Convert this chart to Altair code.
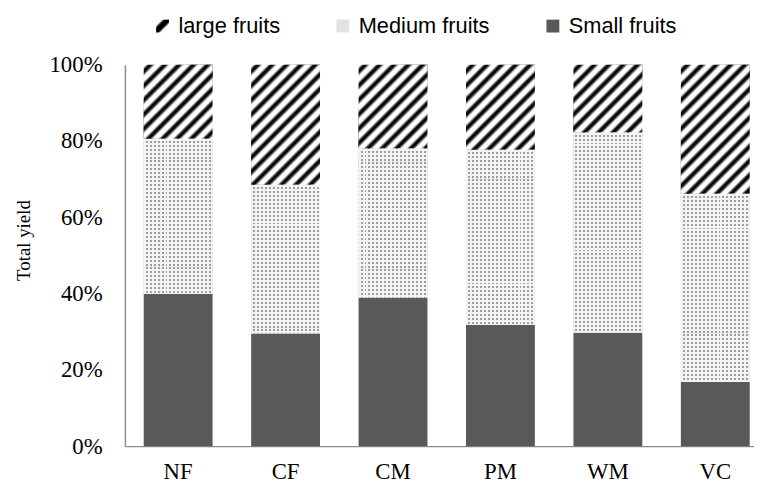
import altair as alt

# ---------------- data ----------------
categories = ["NF", "CF", "CM", "PM", "WM", "VC"]
small_share = [0.399, 0.295, 0.389, 0.318, 0.298, 0.168]
medium_share = [0.407, 0.390, 0.391, 0.459, 0.524, 0.4935]
large_share = [0.194, 0.315, 0.220, 0.223, 0.178, 0.3385]
series = ["large fruits", "Medium fruits", "Small fruits"]
y_ticks = [0, 0.2, 0.4, 0.6, 0.8, 1.0]

# ---------------- layout / style ----------------
SERIF = "Liberation Serif"
SANS = "Liberation Sans"
PLOT_W, PLOT_H = 635, 385
PAD_INNER, PAD_OUTER, ALIGN = 0.359, 0.1074, 0.815
STEP = PLOT_W / (len(categories) - PAD_INNER + 2 * PAD_OUTER)
BAR_W = STEP * (1 - PAD_INNER)


def diag_stripes(w, h, period=14.5):
    """'/' stripes at 45 degrees in pixel space for a w x h rect (bbox units)."""
    total = w + h
    k = total / (w * w + h * h)
    profile = [(0.0, "#ffffff"), (0.14, "#ffffff"), (0.38, "#0a0a0a"),
               (0.56, "#0a0a0a"), (0.82, "#ffffff"), (1.0, "#ffffff")]
    stops = []
    i = 0
    while i * period <= total:
        for f, c in profile:
            t = (i + f) * period / total
            if t <= 1:
                stops.append({"offset": round(t, 5), "color": c})
        i += 1
    return {"gradient": "linear", "x1": 0, "y1": 0,
            "x2": round(w * k, 5), "y2": round(h * k, 5), "stops": stops}


def stripes(length, horizontal, period, c_on, c_off):
    stops = []
    i = 0
    while i * period <= length:
        for f, c in [(0.0, c_off), (0.5, c_off), (0.5, c_on), (1.0, c_on)]:
            t = (i + f) * period / length
            if t <= 1:
                stops.append({"offset": round(t, 5), "color": c})
        i += 1
    g = {"gradient": "linear", "x1": 0, "y1": 0, "stops": stops}
    if horizontal:
        g.update({"x2": 0, "y2": 1})
    else:
        g.update({"x2": 1, "y2": 0})
    return g


rows = []
for i, cat in enumerate(categories):
    parts = [("Small fruits", small_share[i]), ("Medium fruits", medium_share[i]),
             ("large fruits", large_share[i])]
    for j, (name, v) in enumerate(parts):
        h = v * PLOT_H
        if name == "large fruits":
            ga, gb = diag_stripes(BAR_W, h), "transparent"
        elif name == "Medium fruits":
            # gray rows, masked by light columns -> dot lattice
            ga = stripes(h, True, 4.0, "#9e9e9e", "#f3f3f3")
            gb = stripes(BAR_W, False, 4.0, "rgba(243,243,243,0)", "#f3f3f3")
        else:
            ga, gb = "transparent", "transparent"
        rows.append({"cat": cat, "series": name, "share": v, "ord": j,
                     "ga": ga, "gb": gb})

data = alt.Data(values=rows)

x_scale = alt.Scale(paddingInner=PAD_INNER, paddingOuter=PAD_OUTER, align=ALIGN)
y_scale = alt.Scale(domain=[0, 1], nice=False, zero=True)

x_axis = alt.Axis(title=None, labelAngle=0, ticks=False, tickSize=0, labelPadding=15,
                  labelFont=SERIF, labelFontSize=23, labelColor="#000000",
                  domainColor="#8c8c8c", domainWidth=1.5)
y_axis = alt.Axis(values=y_ticks, format=".0%", grid=False, ticks=False, tickSize=0,
                  labelPadding=23, labelFont=SERIF, labelFontSize=23,
                  labelColor="#000000", domainColor="#8c8c8c", domainWidth=1.5,
                  title="Total yield", titleFont=SERIF, titleFontSize=19,
                  titleFontWeight="normal", titleColor="#000000",
                  titleX=-96, titleY=177, titleBaseline="alphabetic")

legend_large = ("{gradient: 'linear', x1: 0, y1: 0, x2: 1, y2: 1, stops: ["
                "{offset: 0, color: '#ffffff'}, {offset: 0.22, color: '#ffffff'}, "
                "{offset: 0.34, color: '#000000'}, {offset: 0.56, color: '#000000'}, "
                "{offset: 0.68, color: '#ffffff'}, {offset: 1, color: '#ffffff'}]}")

order = alt.Order("ord:Q", sort="ascending")
x_enc = alt.X("cat:N", sort=categories, scale=x_scale, axis=x_axis)
y_enc = alt.Y("share:Q", stack="zero", scale=y_scale, axis=y_axis)

base = alt.Chart(data).mark_bar().encode(
    x=x_enc,
    y=y_enc,
    order=order,
    color=alt.Color(
        "series:N",
        scale=alt.Scale(domain=series,
                        range=[alt.ExprRef(expr=legend_large), "#e2e2e2", "#595959"]),
        legend=alt.Legend(title=None, orient="none", legendX=27, legendY=-50,
                          direction="horizontal", symbolType="square", symbolSize=169,
                          symbolStrokeWidth=0, labelFont=SANS, labelFontSize=22,
                          labelColor="#000000", labelOffset=5, columnPadding=52,
                          padding=0),
    ),
)


def overlay(field):
    return alt.Chart(data).mark_bar().encode(
        x=x_enc,
        y=y_enc,
        order=order,
        fill=alt.Fill(field + ":N", scale=None, legend=None),
    )


chart = alt.layer(base, overlay("ga"), overlay("gb")).properties(
    width=PLOT_W,
    height=PLOT_H,
    autosize=alt.AutoSizeParams(type="none"),
    padding={"left": 118, "top": 55, "right": 0, "bottom": 37},
).configure_view(stroke=None)

chart.save("out.html", embed_options={"renderer": "svg", "actions": False})
